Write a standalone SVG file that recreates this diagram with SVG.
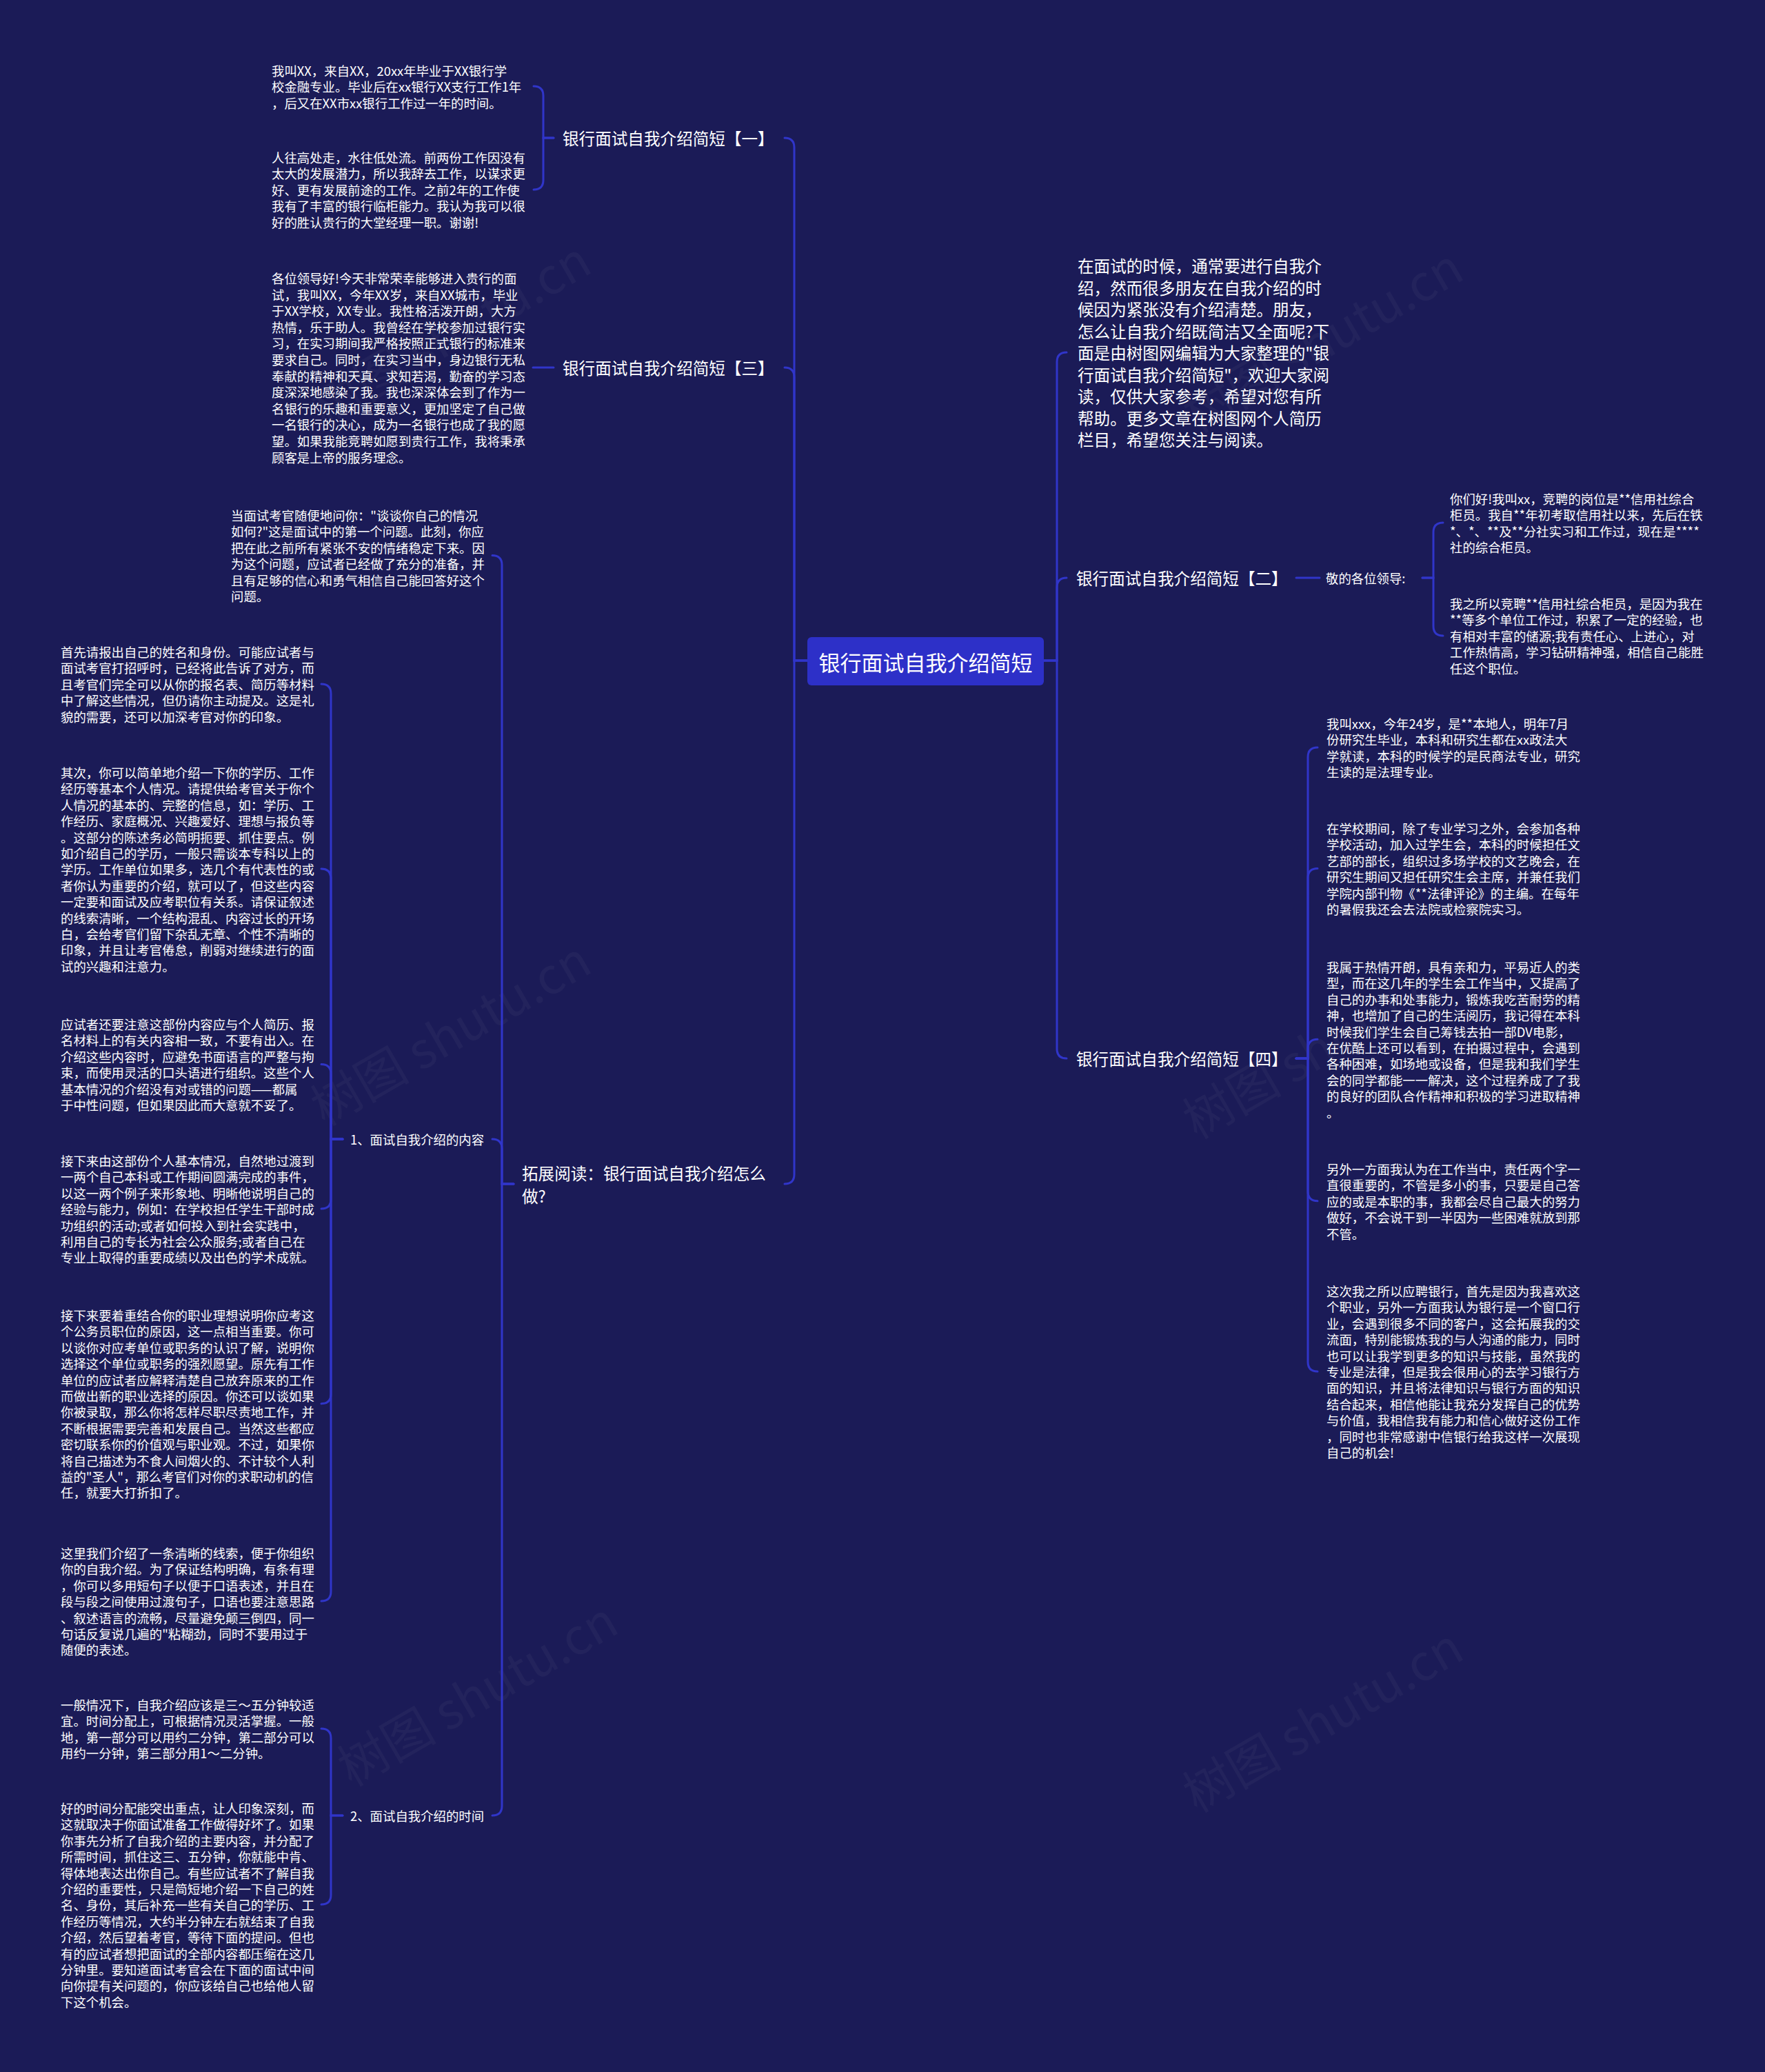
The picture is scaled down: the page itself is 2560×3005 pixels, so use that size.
<svg xmlns="http://www.w3.org/2000/svg" width="2560" height="3005" viewBox="0 0 2560 3005">
<style>
.t{font-family:"Noto Sans CJK SC","Noto Sans",sans-serif;fill:#ffffff;font-size:18.4px;dominant-baseline:central}
.lbl{font-size:23.6px}
.ctr{font-size:31px;text-anchor:middle}
.conn path{fill:none;stroke:#3035c9;stroke-width:3;stroke-linecap:round}
.wm{font-family:"Noto Sans CJK SC","Noto Sans",sans-serif;font-size:72px;fill:#ffffff;fill-opacity:0.035;text-anchor:middle;dominant-baseline:central}
</style>
<rect x="0" y="0" width="2560" height="3005" fill="#1b1b57"/>
<g id="watermarks">
<text class="wm" transform="translate(651,479) rotate(-30)">树图 shutu.cn</text>
<text class="wm" transform="translate(1916,489) rotate(-30)">树图 shutu.cn</text>
<text class="wm" transform="translate(651,1494) rotate(-30)">树图 shutu.cn</text>
<text class="wm" transform="translate(1916,1513) rotate(-30)">树图 shutu.cn</text>
<text class="wm" transform="translate(690,2452) rotate(-30)">树图 shutu.cn</text>
<text class="wm" transform="translate(1916,2490) rotate(-30)">树图 shutu.cn</text>
</g>
<g id="connectors" class="conn">
<path d="M1171 958 H1152 V214 Q1152 200 1138 200"/>
<path d="M1171 958 H1152 V547 Q1152 533 1138 533"/>
<path d="M1171 958 H1152 V1703 Q1152 1717 1138 1717"/>
<path d="M803 200 H788 V139 Q788 125 774 125"/>
<path d="M803 200 H788 V261 Q788 275 774 275"/>
<path d="M803 533 H773"/>
<path d="M745 1717 H728 V819.5 Q728 805.5 714 805.5"/>
<path d="M745 1717 H728 V1666 Q728 1652 714 1652"/>
<path d="M745 1717 H728 V2619 Q728 2633 714 2633"/>
<path d="M497 1652 H480 V1006 Q480 992 466 992"/>
<path d="M497 1652 H480 V1274 Q480 1260 466 1260"/>
<path d="M497 1652 H480 V1557.5 Q480 1543.5 466 1543.5"/>
<path d="M497 1652 H480 V1739 Q480 1753 466 1753"/>
<path d="M497 1652 H480 V2021.7 Q480 2035.7 466 2035.7"/>
<path d="M497 1652 H480 V2308 Q480 2322 466 2322"/>
<path d="M497 2633 H480 V2521 Q480 2507 466 2507"/>
<path d="M497 2633 H480 V2748 Q480 2762 466 2762"/>
<path d="M1514 958 H1533 V525 Q1533 511 1547 511"/>
<path d="M1514 958 H1533 V852 Q1533 838 1547 838"/>
<path d="M1514 958 H1533 V1521 Q1533 1535 1547 1535"/>
<path d="M1880 838 H1914"/>
<path d="M2063 838 H2079 V772 Q2079 758 2093 758"/>
<path d="M2063 838 H2079 V908 Q2079 922 2093 922"/>
<path d="M1880 1535 H1897 V1098 Q1897 1084 1911 1084"/>
<path d="M1880 1535 H1897 V1273.5 Q1897 1259.5 1911 1259.5"/>
<path d="M1880 1535 H1897 V1521.3 Q1897 1507.3 1911 1507.3"/>
<path d="M1880 1535 H1897 V1727.8 Q1897 1741.8 1911 1741.8"/>
<path d="M1880 1535 H1897 V1975 Q1897 1989 1911 1989"/>
</g>
<g id="center">
<rect x="1171" y="924" width="343" height="70" rx="6" fill="#2d30c8"/>
<text class="t ctr" x="1342.5" y="959">银行面试自我介绍简短</text>
</g>
<g id="b1">
<text class="t lbl" x="816" y="200">银行面试自我介绍简短【一】</text>
</g>
<g id="b1-1">
<text class="t" x="394" y="102"><tspan x="394">我叫XX，来自XX，20xx年毕业于XX银行学</tspan><tspan x="394" dy="23.4">校金融专业。毕业后在xx银行XX支行工作1年</tspan><tspan x="394" dy="23.4">，后又在XX市xx银行工作过一年的时间。</tspan></text>
</g>
<g id="b1-2">
<text class="t" x="394" y="228"><tspan x="394">人往高处走，水往低处流。前两份工作因没有</tspan><tspan x="394" dy="23.4">太大的发展潜力，所以我辞去工作，以谋求更</tspan><tspan x="394" dy="23.4">好、更有发展前途的工作。之前2年的工作使</tspan><tspan x="394" dy="23.4">我有了丰富的银行临柜能力。我认为我可以很</tspan><tspan x="394" dy="23.4">好的胜认贵行的大堂经理一职。谢谢!</tspan></text>
</g>
<g id="b3">
<text class="t lbl" x="816" y="533">银行面试自我介绍简短【三】</text>
</g>
<g id="b3-1">
<text class="t" x="394" y="403"><tspan x="394">各位领导好!今天非常荣幸能够进入贵行的面</tspan><tspan x="394" dy="23.6">试，我叫XX，今年XX岁，来自XX城市，毕业</tspan><tspan x="394" dy="23.6">于XX学校，XX专业。我性格活泼开朗，大方</tspan><tspan x="394" dy="23.6">热情，乐于助人。我曾经在学校参加过银行实</tspan><tspan x="394" dy="23.6">习，在实习期间我严格按照正式银行的标准来</tspan><tspan x="394" dy="23.6">要求自己。同时，在实习当中，身边银行无私</tspan><tspan x="394" dy="23.6">奉献的精神和天真、求知若渴，勤奋的学习态</tspan><tspan x="394" dy="23.6">度深深地感染了我。我也深深体会到了作为一</tspan><tspan x="394" dy="23.6">名银行的乐趣和重要意义，更加坚定了自己做</tspan><tspan x="394" dy="23.6">一名银行的决心，成为一名银行也成了我的愿</tspan><tspan x="394" dy="23.6">望。如果我能竞聘如愿到贵行工作，我将秉承</tspan><tspan x="394" dy="23.6">顾客是上帝的服务理念。</tspan></text>
</g>
<g id="ext">
<text class="t lbl" x="757" y="1701"><tspan x="757">拓展阅读：银行面试自我介绍怎么</tspan><tspan x="757" dy="33">做?</tspan></text>
</g>
<g id="ext-0">
<text class="t" x="335" y="747"><tspan x="335">当面试考官随便地问你："谈谈你自己的情况</tspan><tspan x="335" dy="23.4">如何?"这是面试中的第一个问题。此刻，你应</tspan><tspan x="335" dy="23.4">把在此之前所有紧张不安的情绪稳定下来。因</tspan><tspan x="335" dy="23.4">为这个问题，应试者已经做了充分的准备，并</tspan><tspan x="335" dy="23.4">且有足够的信心和勇气相信自己能回答好这个</tspan><tspan x="335" dy="23.4">问题。</tspan></text>
</g>
<g id="ext-1">
<text class="t" x="508" y="1652">1、面试自我介绍的内容</text>
</g>
<g id="ext-1-1">
<text class="t" x="88" y="945"><tspan x="88">首先请报出自己的姓名和身份。可能应试者与</tspan><tspan x="88" dy="23.4">面试考官打招呼时，已经将此告诉了对方，而</tspan><tspan x="88" dy="23.4">且考官们完全可以从你的报名表、简历等材料</tspan><tspan x="88" dy="23.4">中了解这些情况，但仍请你主动提及。这是礼</tspan><tspan x="88" dy="23.4">貌的需要，还可以加深考官对你的印象。</tspan></text>
</g>
<g id="ext-1-2">
<text class="t" x="88" y="1120"><tspan x="88">其次，你可以简单地介绍一下你的学历、工作</tspan><tspan x="88" dy="23.4">经历等基本个人情况。请提供给考官关于你个</tspan><tspan x="88" dy="23.4">人情况的基本的、完整的信息，如：学历、工</tspan><tspan x="88" dy="23.4">作经历、家庭概况、兴趣爱好、理想与报负等</tspan><tspan x="88" dy="23.4">。这部分的陈述务必简明扼要、抓住要点。例</tspan><tspan x="88" dy="23.4">如介绍自己的学历，一般只需谈本专科以上的</tspan><tspan x="88" dy="23.4">学历。工作单位如果多，选几个有代表性的或</tspan><tspan x="88" dy="23.4">者你认为重要的介绍，就可以了，但这些内容</tspan><tspan x="88" dy="23.4">一定要和面试及应考职位有关系。请保证叙述</tspan><tspan x="88" dy="23.4">的线索清晰，一个结构混乱、内容过长的开场</tspan><tspan x="88" dy="23.4">白，会给考官们留下杂乱无章、个性不清晰的</tspan><tspan x="88" dy="23.4">印象，并且让考官倦怠，削弱对继续进行的面</tspan><tspan x="88" dy="23.4">试的兴趣和注意力。</tspan></text>
</g>
<g id="ext-1-3">
<text class="t" x="88" y="1485"><tspan x="88">应试者还要注意这部份内容应与个人简历、报</tspan><tspan x="88" dy="23.4">名材料上的有关内容相一致，不要有出入。在</tspan><tspan x="88" dy="23.4">介绍这些内容时，应避免书面语言的严整与拘</tspan><tspan x="88" dy="23.4">束，而使用灵活的口头语进行组织。这些个人</tspan><tspan x="88" dy="23.4">基本情况的介绍没有对或错的问题——都属</tspan><tspan x="88" dy="23.4">于中性问题，但如果因此而大意就不妥了。</tspan></text>
</g>
<g id="ext-1-4">
<text class="t" x="88" y="1683"><tspan x="88">接下来由这部份个人基本情况，自然地过渡到</tspan><tspan x="88" dy="23.4">一两个自己本科或工作期间圆满完成的事件，</tspan><tspan x="88" dy="23.4">以这一两个例子来形象地、明晰他说明自己的</tspan><tspan x="88" dy="23.4">经验与能力，例如：在学校担任学生干部时成</tspan><tspan x="88" dy="23.4">功组织的活动;或者如何投入到社会实践中，</tspan><tspan x="88" dy="23.4">利用自己的专长为社会公众服务;或者自己在</tspan><tspan x="88" dy="23.4">专业上取得的重要成绩以及出色的学术成就。</tspan></text>
</g>
<g id="ext-1-5">
<text class="t" x="88" y="1907"><tspan x="88">接下来要着重结合你的职业理想说明你应考这</tspan><tspan x="88" dy="23.4">个公务员职位的原因，这一点相当重要。你可</tspan><tspan x="88" dy="23.4">以谈你对应考单位或职务的认识了解，说明你</tspan><tspan x="88" dy="23.4">选择这个单位或职务的强烈愿望。原先有工作</tspan><tspan x="88" dy="23.4">单位的应试者应解释清楚自己放弃原来的工作</tspan><tspan x="88" dy="23.4">而做出新的职业选择的原因。你还可以谈如果</tspan><tspan x="88" dy="23.4">你被录取，那么你将怎样尽职尽责地工作，并</tspan><tspan x="88" dy="23.4">不断根据需要完善和发展自己。当然这些都应</tspan><tspan x="88" dy="23.4">密切联系你的价值观与职业观。不过，如果你</tspan><tspan x="88" dy="23.4">将自己描述为不食人间烟火的、不计较个人利</tspan><tspan x="88" dy="23.4">益的"圣人"，那么考官们对你的求职动机的信</tspan><tspan x="88" dy="23.4">任，就要大打折扣了。</tspan></text>
</g>
<g id="ext-1-6">
<text class="t" x="88" y="2252"><tspan x="88">这里我们介绍了一条清晰的线索，便于你组织</tspan><tspan x="88" dy="23.4">你的自我介绍。为了保证结构明确，有条有理</tspan><tspan x="88" dy="23.4">，你可以多用短句子以便于口语表述，并且在</tspan><tspan x="88" dy="23.4">段与段之间使用过渡句子，口语也要注意思路</tspan><tspan x="88" dy="23.4">、叙述语言的流畅，尽量避免颠三倒四，同一</tspan><tspan x="88" dy="23.4">句话反复说几遍的"粘糊劲，同时不要用过于</tspan><tspan x="88" dy="23.4">随便的表述。</tspan></text>
</g>
<g id="ext-2">
<text class="t" x="508" y="2633">2、面试自我介绍的时间</text>
</g>
<g id="ext-2-1">
<text class="t" x="88" y="2472"><tspan x="88">一般情况下，自我介绍应该是三～五分钟较适</tspan><tspan x="88" dy="23.4">宜。时间分配上，可根据情况灵活掌握。一般</tspan><tspan x="88" dy="23.4">地，第一部分可以用约二分钟，第二部分可以</tspan><tspan x="88" dy="23.4">用约一分钟，第三部分用1～二分钟。</tspan></text>
</g>
<g id="ext-2-2">
<text class="t" x="88" y="2622"><tspan x="88">好的时间分配能突出重点，让人印象深刻，而</tspan><tspan x="88" dy="23.4">这就取决于你面试准备工作做得好坏了。如果</tspan><tspan x="88" dy="23.4">你事先分析了自我介绍的主要内容，并分配了</tspan><tspan x="88" dy="23.4">所需时间，抓住这三、五分钟，你就能中肯、</tspan><tspan x="88" dy="23.4">得体地表达出你自己。有些应试者不了解自我</tspan><tspan x="88" dy="23.4">介绍的重要性，只是简短地介绍一下自己的姓</tspan><tspan x="88" dy="23.4">名、身份，其后补充一些有关自己的学历、工</tspan><tspan x="88" dy="23.4">作经历等情况，大约半分钟左右就结束了自我</tspan><tspan x="88" dy="23.4">介绍，然后望着考官，等待下面的提问。但也</tspan><tspan x="88" dy="23.4">有的应试者想把面试的全部内容都压缩在这几</tspan><tspan x="88" dy="23.4">分钟里。要知道面试考官会在下面的面试中间</tspan><tspan x="88" dy="23.4">向你提有关问题的，你应该给自己也给他人留</tspan><tspan x="88" dy="23.4">下这个机会。</tspan></text>
</g>
<g id="intro">
<text class="t lbl" x="1563" y="385"><tspan x="1563">在面试的时候，通常要进行自我介</tspan><tspan x="1563" dy="31.5">绍，然而很多朋友在自我介绍的时</tspan><tspan x="1563" dy="31.5">候因为紧张没有介绍清楚。朋友，</tspan><tspan x="1563" dy="31.5">怎么让自我介绍既简洁又全面呢?下</tspan><tspan x="1563" dy="31.5">面是由树图网编辑为大家整理的"银</tspan><tspan x="1563" dy="31.5">行面试自我介绍简短"，欢迎大家阅</tspan><tspan x="1563" dy="31.5">读，仅供大家参考，希望对您有所</tspan><tspan x="1563" dy="31.5">帮助。更多文章在树图网个人简历</tspan><tspan x="1563" dy="31.5">栏目，希望您关注与阅读。</tspan></text>
</g>
<g id="b2">
<text class="t lbl" x="1561" y="838">银行面试自我介绍简短【二】</text>
</g>
<g id="b2-0">
<text class="t" x="1923" y="838">敬的各位领导:</text>
</g>
<g id="b2-1">
<text class="t" x="2103" y="723"><tspan x="2103">你们好!我叫xx，竞聘的岗位是**信用社综合</tspan><tspan x="2103" dy="23.4">柜员。我自**年初考取信用社以来，先后在铁</tspan><tspan x="2103" dy="23.4">*、*、**及**分社实习和工作过，现在是****</tspan><tspan x="2103" dy="23.4">社的综合柜员。</tspan></text>
</g>
<g id="b2-2">
<text class="t" x="2103" y="875"><tspan x="2103">我之所以竞聘**信用社综合柜员，是因为我在</tspan><tspan x="2103" dy="23.4">**等多个单位工作过，积累了一定的经验，也</tspan><tspan x="2103" dy="23.4">有相对丰富的储源;我有责任心、上进心，对</tspan><tspan x="2103" dy="23.4">工作热情高，学习钻研精神强，相信自己能胜</tspan><tspan x="2103" dy="23.4">任这个职位。</tspan></text>
</g>
<g id="b4">
<text class="t lbl" x="1561" y="1535">银行面试自我介绍简短【四】</text>
</g>
<g id="b4-1">
<text class="t" x="1924" y="1049"><tspan x="1924">我叫xxx，今年24岁，是**本地人，明年7月</tspan><tspan x="1924" dy="23.4">份研究生毕业，本科和研究生都在xx政法大</tspan><tspan x="1924" dy="23.4">学就读，本科的时候学的是民商法专业，研究</tspan><tspan x="1924" dy="23.4">生读的是法理专业。</tspan></text>
</g>
<g id="b4-2">
<text class="t" x="1924" y="1201"><tspan x="1924">在学校期间，除了专业学习之外，会参加各种</tspan><tspan x="1924" dy="23.4">学校活动，加入过学生会，本科的时候担任文</tspan><tspan x="1924" dy="23.4">艺部的部长，组织过多场学校的文艺晚会，在</tspan><tspan x="1924" dy="23.4">研究生期间又担任研究生会主席，并兼任我们</tspan><tspan x="1924" dy="23.4">学院内部刊物《**法律评论》的主编。在每年</tspan><tspan x="1924" dy="23.4">的暑假我还会去法院或检察院实习。</tspan></text>
</g>
<g id="b4-3">
<text class="t" x="1924" y="1402"><tspan x="1924">我属于热情开朗，具有亲和力，平易近人的类</tspan><tspan x="1924" dy="23.4">型，而在这几年的学生会工作当中，又提高了</tspan><tspan x="1924" dy="23.4">自己的办事和处事能力，锻炼我吃苦耐劳的精</tspan><tspan x="1924" dy="23.4">神，也增加了自己的生活阅历，我记得在本科</tspan><tspan x="1924" dy="23.4">时候我们学生会自己筹钱去拍一部DV电影，</tspan><tspan x="1924" dy="23.4">在优酷上还可以看到，在拍摄过程中，会遇到</tspan><tspan x="1924" dy="23.4">各种困难，如场地或设备，但是我和我们学生</tspan><tspan x="1924" dy="23.4">会的同学都能一一解决，这个过程养成了了我</tspan><tspan x="1924" dy="23.4">的良好的团队合作精神和积极的学习进取精神</tspan><tspan x="1924" dy="23.4">。</tspan></text>
</g>
<g id="b4-4">
<text class="t" x="1924" y="1695"><tspan x="1924">另外一方面我认为在工作当中，责任两个字一</tspan><tspan x="1924" dy="23.4">直很重要的，不管是多小的事，只要是自己答</tspan><tspan x="1924" dy="23.4">应的或是本职的事，我都会尽自己最大的努力</tspan><tspan x="1924" dy="23.4">做好，不会说干到一半因为一些困难就放到那</tspan><tspan x="1924" dy="23.4">不管。</tspan></text>
</g>
<g id="b4-5">
<text class="t" x="1924" y="1872"><tspan x="1924">这次我之所以应聘银行，首先是因为我喜欢这</tspan><tspan x="1924" dy="23.4">个职业，另外一方面我认为银行是一个窗口行</tspan><tspan x="1924" dy="23.4">业，会遇到很多不同的客户，这会拓展我的交</tspan><tspan x="1924" dy="23.4">流面，特别能锻炼我的与人沟通的能力，同时</tspan><tspan x="1924" dy="23.4">也可以让我学到更多的知识与技能，虽然我的</tspan><tspan x="1924" dy="23.4">专业是法律，但是我会很用心的去学习银行方</tspan><tspan x="1924" dy="23.4">面的知识，并且将法律知识与银行方面的知识</tspan><tspan x="1924" dy="23.4">结合起来，相信他能让我充分发挥自己的优势</tspan><tspan x="1924" dy="23.4">与价值，我相信我有能力和信心做好这份工作</tspan><tspan x="1924" dy="23.4">，同时也非常感谢中信银行给我这样一次展现</tspan><tspan x="1924" dy="23.4">自己的机会!</tspan></text>
</g>
</svg>
